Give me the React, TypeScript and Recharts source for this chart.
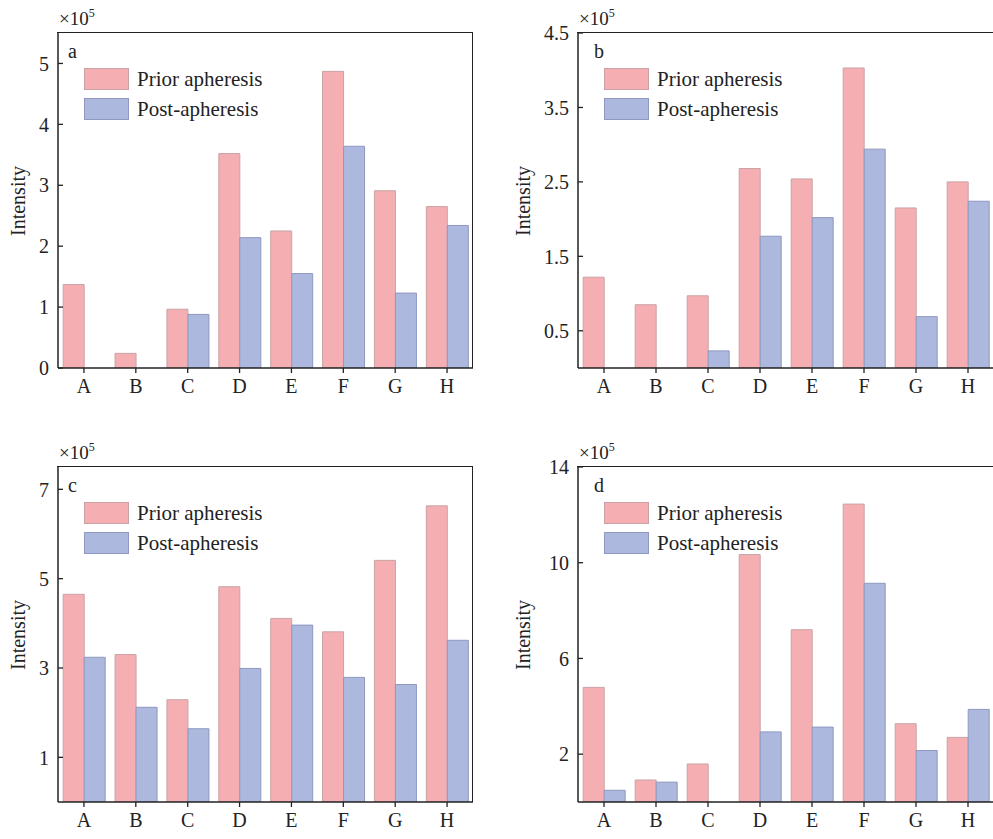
import { BarChart, Bar, XAxis, YAxis, Legend } from 'recharts';

// values are in units of 10^5
const categories = ['A', 'B', 'C', 'D', 'E', 'F', 'G', 'H'];

const priorA = [1.37, 0.24, 0.965, 3.52, 2.25, 4.87, 2.91, 2.65];
const postA = [0, 0, 0.88, 2.14, 1.55, 3.64, 1.23, 2.34];

const priorB = [1.22, 0.85, 0.97, 2.68, 2.54, 4.03, 2.15, 2.5];
const postB = [0, 0, 0.23, 1.77, 2.02, 2.94, 0.69, 2.24];

const priorC = [4.65, 3.3, 2.29, 4.82, 4.11, 3.81, 5.41, 6.63];
const postC = [3.24, 2.12, 1.64, 2.99, 3.96, 2.79, 2.63, 3.62];

const priorD = [4.79, 0.92, 1.59, 10.34, 7.2, 12.45, 3.27, 2.7];
const postD = [0.49, 0.83, 0, 2.93, 3.13, 9.14, 2.15, 3.87];

const ticksA = [0, 1, 2, 3, 4, 5];
const ticksB = [0.5, 1.5, 2.5, 3.5, 4.5];
const ticksC = [1, 3, 5, 7];
const ticksD = [2, 6, 10, 14];

const seriesNames = { prior: 'Prior apheresis', post: 'Post-apheresis' };
const seriesOrder = ['prior', 'post'];

const FONT = 'Liberation Serif';
const INK = '#222';
const COLORS: Record<string, { fill: string; stroke: string }> = {
  prior: { fill: '#f5afb3', stroke: '#c9a2a5' },
  post: { fill: '#adb8de', stroke: '#8e98c0' },
};

const AXIS_W = 40;
const AXIS_H = 30;

function YTick(props: any) {
  const { x, y, payload } = props;
  return (
    <g>
      <line x1={x + 9} x2={x + 14} y1={y} y2={y} stroke={INK} strokeWidth={1.3} />
      <text x={x} y={y} dy="0.36em" textAnchor="end" fontSize={20} style={{ fontFamily: FONT }} fill={INK}>
        {payload.value}
      </text>
    </g>
  );
}

function XTick(props: any) {
  const { x, y, payload } = props;
  return (
    <text x={x} y={y} dy="0.71em" textAnchor="middle" fontSize={20} style={{ fontFamily: FONT }} fill={INK}>
      {payload.value}
    </text>
  );
}

function LegendBox(props: any) {
  const items = [...(props.payload || [])].sort(
    (a: any, b: any) => seriesOrder.indexOf(a.dataKey) - seriesOrder.indexOf(b.dataKey)
  );
  return (
    <div>
      {items.map((p: any) => {
        const c = COLORS[p.dataKey];
        return (
          <div key={p.dataKey} style={{ display: 'flex', alignItems: 'center', height: 30 }}>
            <span
              style={{
                display: 'inline-block',
                width: 43,
                height: 20,
                background: c.fill,
                border: `1px solid ${c.stroke}`,
                marginRight: 8,
              }}
            />
            <span style={{ fontSize: 21, fontFamily: FONT, color: INK, lineHeight: 1 }}>{p.value}</span>
          </div>
        );
      })}
    </div>
  );
}

interface PanelProps {
  left: number;
  top: number;
  width: number;
  height: number;
  plot: { x: number; y: number; w: number; h: number };
  prior: number[];
  post: number[];
  domain: [number, number];
  ticks: number[];
  letter: string;
  letterDx: number;
  titleDx: number;
}

function Panel({ left, top, width, height, plot, prior, post, domain, ticks, letter, letterDx, titleDx }: PanelProps) {
  const data = categories.map((name, i) => ({ name, prior: prior[i], post: post[i] }));
  const margin = {
    top: plot.y,
    left: plot.x - AXIS_W,
    right: width - plot.x - plot.w,
    bottom: height - plot.y - plot.h - AXIS_H,
  };
  const axisLine = { stroke: INK, strokeWidth: 1.5 };

  return (
    <div style={{ position: 'absolute', left, top, width, height }}>
      <BarChart width={width} height={height} data={data} margin={margin} barCategoryGap="10%" barGap={0}>
        <XAxis
          dataKey="name"
          height={AXIS_H}
          axisLine={axisLine}
          tickLine={{ stroke: INK, strokeWidth: 1.3 }}
          tickSize={5}
          tickMargin={6}
          tick={<XTick />}
          interval={0}
        />
        <YAxis
          width={AXIS_W}
          domain={domain}
          ticks={ticks}
          type="number"
          allowDataOverflow
          axisLine={axisLine}
          tickLine={false}
          tickSize={0}
          tickMargin={9}
          tick={<YTick />}
        />
        <Legend
          layout="vertical"
          align="center"
          verticalAlign="middle"
          content={<LegendBox />}
          wrapperStyle={{ left: plot.x + 26, top: plot.y + 31, width: 'auto', height: 'auto' }}
        />
        <Bar dataKey="prior" name={seriesNames.prior} fill={COLORS.prior.fill} stroke={COLORS.prior.stroke} strokeWidth={1} isAnimationActive={false} />
        <Bar dataKey="post" name={seriesNames.post} fill={COLORS.post.fill} stroke={COLORS.post.stroke} strokeWidth={1} isAnimationActive={false} />
      </BarChart>
      {/* top and right frame of the plot box */}
      <div
        style={{
          position: 'absolute',
          left: plot.x - 0.75,
          top: plot.y - 0.75,
          width: plot.w,
          height: plot.h,
          borderTop: `1.5px solid ${INK}`,
          borderRight: `1.5px solid ${INK}`,
          pointerEvents: 'none',
        }}
      />
      <div style={{ position: 'absolute', left: plot.x + 1, top: plot.y - 24, fontSize: 19, lineHeight: 1, fontFamily: FONT, color: INK }}>
        ×10<sup style={{ fontSize: 12, verticalAlign: 'top', position: 'relative', top: -2 }}>5</sup>
      </div>
      <div style={{ position: 'absolute', left: plot.x + letterDx, top: plot.y + 8, fontSize: 20, lineHeight: 1, fontFamily: FONT, color: INK }}>
        {letter}
      </div>
      <div
        style={{
          position: 'absolute',
          left: plot.x - titleDx,
          top: plot.y + plot.h / 2,
          transform: 'translate(-50%, -50%) rotate(-90deg)',
          fontSize: 20,
          lineHeight: 1,
          fontFamily: FONT,
          color: INK,
          whiteSpace: 'nowrap',
        }}
      >
        Intensity
      </div>
    </div>
  );
}

export default function App() {
  return (
    <div
      style={{
        position: 'absolute',
        left: 0,
        top: 0,
        width: 993,
        height: 839,
        overflow: 'hidden',
        background: '#fff',
        fontFamily: FONT,
      }}
    >
      <Panel left={0} top={0} width={497} height={420} plot={{ x: 58, y: 33, w: 415, h: 335 }}
        prior={priorA} post={postA} domain={[0, 5.5]} ticks={ticksA} letter="a" letterDx={10} titleDx={40} />
      <Panel left={496} top={0} width={500} height={420} plot={{ x: 82, y: 33, w: 416, h: 335 }}
        prior={priorB} post={postB} domain={[0, 4.5]} ticks={ticksB} letter="b" letterDx={16} titleDx={55} />
      <Panel left={0} top={420} width={497} height={419} plot={{ x: 58, y: 47, w: 415, h: 335 }}
        prior={priorC} post={postC} domain={[0, 7.5]} ticks={ticksC} letter="c" letterDx={10} titleDx={40} />
      <Panel left={496} top={420} width={500} height={419} plot={{ x: 82, y: 47, w: 416, h: 335 }}
        prior={priorD} post={postD} domain={[0, 14]} ticks={ticksD} letter="d" letterDx={16} titleDx={55} />
    </div>
  );
}
